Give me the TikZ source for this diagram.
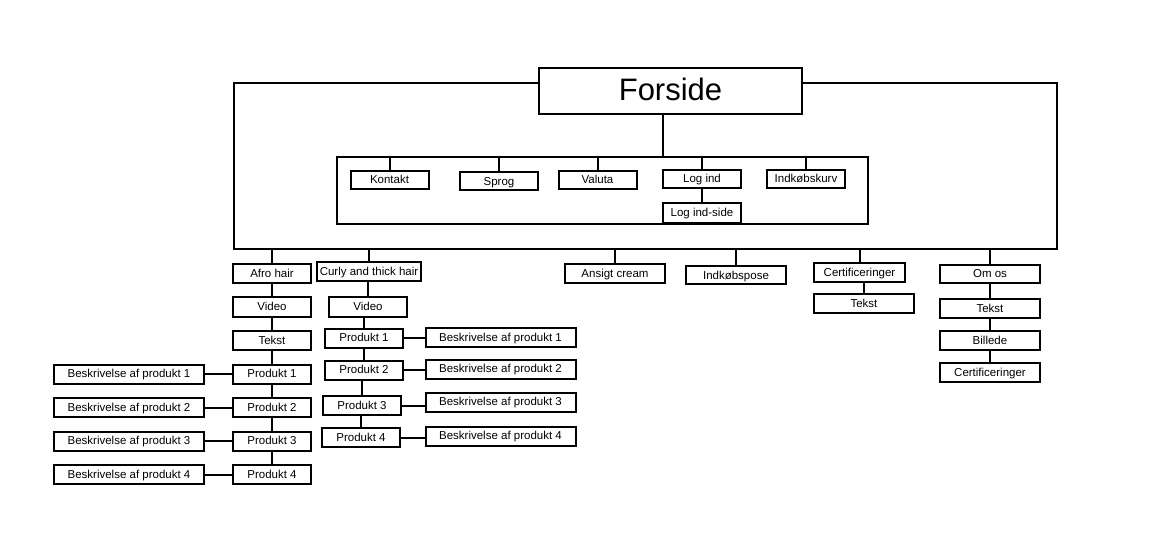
\documentclass[tikz,border=0pt]{standalone}
\usepackage{fontspec}
\setmainfont{Liberation Sans}
\usetikzlibrary{positioning,calc}

\begin{document}
\begin{tikzpicture}[
    x=1pt,
    y=-1pt,
    node distance=14.5pt,
    block/.style={
        rectangle,
        draw,
        line width=2pt,
        fill=white,
        minimum width=78pt,
        minimum height=19pt,
        inner sep=1pt,
        outer sep=0pt,
        text height=8.5pt,
        text depth=1pt,
        text centered,
        font=\fontsize{11.5}{13}\selectfont
    },
    wideblock/.style={
        block,
        minimum width=100pt
    },
    descblock/.style={
        block,
        minimum width=150pt
    },
    titleblock/.style={
        block,
        minimum width=263pt,
        minimum height=46pt,
        text height=22pt,
        text depth=2pt,
        font=\fontsize{31}{36}\selectfont
    },
    frame/.style={
        rectangle,
        draw,
        line width=2pt,
        inner sep=0pt,
        outer sep=0pt
    },
    line/.style={
        draw,
        line width=2pt
    }
]
\useasboundingbox (0,0) rectangle (1168,548);

% Frames
\node [frame, minimum width=823pt, minimum height=166pt] (frame) at (645.5,166) {};
\node [frame, minimum width=531pt, minimum height=67pt] (menu) at (602.5,190.5) {};

% Nodes
\node [titleblock] (forside) at (670.5,91) {Forside};

\node [block, minimum height=18pt] (kontakt) at (389.5,180) {Kontakt};
\node [block, minimum height=18pt] (sprog) at (499,181.5) {Sprog};
\node [block, minimum height=18pt] (valuta) at (597.5,180) {Valuta};
\node [block, minimum height=18pt] (logind) at (702,179) {Log ind};
\node [block, minimum height=20pt, below=15pt of logind] (logindside) {Log ind-side};
\node [block, minimum height=18pt] (kurv) at (806,179) {Indkøbskurv};

\node [block] (afro) at (272,273.5) {Afro hair};
\node [block, below=of afro] (afrovideo) {Video};
\node [block, below=of afrovideo] (afrotekst) {Tekst};
\node [block, below=of afrotekst] (afrop1) {Produkt 1};
\node [block, below=of afrop1] (afrop2) {Produkt 2};
\node [block, below=of afrop2] (afrop3) {Produkt 3};
\node [block, below=of afrop3] (afrop4) {Produkt 4};
\node [descblock, left=29pt of afrop1] (afrob1) {Beskrivelse af produkt 1};
\node [descblock, left=29pt of afrop2] (afrob2) {Beskrivelse af produkt 2};
\node [descblock, left=29pt of afrop3] (afrob3) {Beskrivelse af produkt 3};
\node [descblock, left=29pt of afrop4] (afrob4) {Beskrivelse af produkt 4};

\node [block, minimum width=104pt] (curly) at (369,272) {Curly and thick hair};
\node [block] (curlyvideo) at (368,307) {Video};
\node [block] (curlyp1) at (364,338) {Produkt 1};
\node [block] (curlyp2) at (364,370) {Produkt 2};
\node [block] (curlyp3) at (362,405.5) {Produkt 3};
\node [block] (curlyp4) at (361,437.5) {Produkt 4};
\node [descblock] (curlyb1) at (500.5,337.5) {Beskrivelse af produkt 1};
\node [descblock] (curlyb2) at (500.5,369) {Beskrivelse af produkt 2};
\node [descblock] (curlyb3) at (500.5,402) {Beskrivelse af produkt 3};
\node [descblock] (curlyb4) at (500.5,436) {Beskrivelse af produkt 4};

\node [wideblock] (ansigt) at (615,273.5) {Ansigt cream};
\node [wideblock, minimum height=18pt] (pose) at (736,275.5) {Indkøbspose};
\node [block, minimum width=91pt] (cert) at (859.5,272.5) {Certificeringer};
\node [wideblock] (certtekst) at (864,303.5) {Tekst};

\node [wideblock, minimum height=18pt] (omos) at (990,274) {Om os};
\node [wideblock, below=16pt of omos] (omostekst) {Tekst};
\node [wideblock, below=13pt of omostekst] (billede) {Billede};
\node [wideblock, below=13pt of billede] (omoscert) {Certificeringer};

% Edges
\path [line] ($(forside.south)+(-8,0)$) -- ($(forside.south |- menu.north)+(-8,0)$);
\path [line] (kontakt.north) -- (kontakt.north |- menu.north);
\path [line] (sprog.north) -- (sprog.north |- menu.north);
\path [line] (valuta.north) -- (valuta.north |- menu.north);
\path [line] (logind.north) -- (logind.north |- menu.north);
\path [line] (kurv.north) -- (kurv.north |- menu.north);
\path [line] (logind) -- (logindside);

\path [line] (afro.north) -- (afro.north |- frame.south);
\path [line] (curly.north) -- (curly.north |- frame.south);
\path [line] (ansigt.north) -- (ansigt.north |- frame.south);
\path [line] (pose.north) -- (pose.north |- frame.south);
\path [line] (cert.north) -- (cert.north |- frame.south);
\path [line] (omos.north) -- (omos.north |- frame.south);

\path [line] (afro) -- (afrovideo);
\path [line] (afrovideo) -- (afrotekst);
\path [line] (afrotekst) -- (afrop1);
\path [line] (afrop1) -- (afrop2);
\path [line] (afrop2) -- (afrop3);
\path [line] (afrop3) -- (afrop4);
\path [line] (afrob1) -- (afrop1);
\path [line] (afrob2) -- (afrop2);
\path [line] (afrob3) -- (afrop3);
\path [line] (afrob4) -- (afrop4);

\path [line] (curlyvideo.north) -- (curlyvideo.north |- curly.south);
\path [line] (curlyp1.north) -- (curlyp1.north |- curlyvideo.south);
\path [line] (curlyp2.north) -- (curlyp2.north |- curlyp1.south);
\path [line] (curlyp3.north) -- (curlyp3.north |- curlyp2.south);
\path [line] (curlyp4.north) -- (curlyp4.north |- curlyp3.south);
\path [line] (curlyp1.east) -- (curlyp1.east -| curlyb1.west);
\path [line] (curlyp2.east) -- (curlyp2.east -| curlyb2.west);
\path [line] (curlyp3.east) -- (curlyp3.east -| curlyb3.west);
\path [line] (curlyp4.east) -- (curlyp4.east -| curlyb4.west);

\path [line] (certtekst.north |- cert.south) -- (certtekst.north);
\path [line] (omos) -- (omostekst);
\path [line] (omostekst) -- (billede);
\path [line] (billede) -- (omoscert);

\end{tikzpicture}
\end{document}
